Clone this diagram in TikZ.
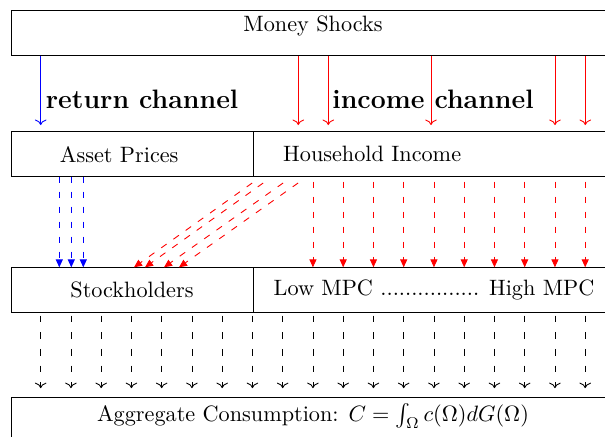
\documentclass[tikz,border=0pt]{standalone}
\usepackage{amsmath,amssymb}
\usetikzlibrary{positioning}
\usetikzlibrary{arrows.meta}

\begin{document}
\begin{tikzpicture}[x=0.45pt, y=-0.45pt,
    box/.style = {draw, outer sep=0pt, minimum height=20.25pt, inner ysep=3pt},
    wide/.style = {box, anchor=north west, minimum width=271.8pt},
    lcell/.style = {box, minimum width=108.9pt},
    rcell/.style = {box, minimum width=162.9pt},
    midblue/.style = {blue, dash pattern=on 3pt off 3.75pt, -{Triangle[length=3.6pt,width=3.2pt]}},
    midred/.style = {red, dash pattern=on 3pt off 3.75pt, -{Triangle[length=3.6pt,width=3.2pt]}},
    down/.style = {dash pattern=on 3pt off 4.5pt, ->, shorten <=1.5pt, shorten >=4.3pt},
    chan/.style = {font=\large\bfseries, inner sep=0pt, anchor=base west}]
  \useasboundingbox (0,0) rectangle (605,436);
  \clip (0,0) rectangle (605,436);
  % rows
  \node[wide, text height=6.45pt, text depth=7.8pt] (shocks) at (11,10.7) {Money Shocks};
  \node[lcell, anchor=north west, text width=64.9pt, align=left, inner xsep=22pt] (assets) at (11,131.7) {Asset Prices};
  \node[rcell, text width=135.7pt, align=left, inner xsep=13.6pt] (income) [right=0pt of assets] {Household Income};
  \node[lcell, anchor=north west] (stock) at (11,267.3) {Stockholders};
  \node[rcell] (mpc) [right=0pt of stock] {Low MPC ................ High MPC};
  \node[wide, text height=7.5pt, text depth=6.75pt] (agg) at (11,397.7) {Aggregate Consumption: $C=\int_\Omega c(\Omega)dG(\Omega)$};
  \node[chan] (ret) at (45.5,108) {return channel};
  \node[chan] (inc) at (332,108) {income channel};
  % channels
  \draw[->, blue, shorten >=3pt] (shocks.south -| 40.7,0) -- (assets.north -| 40.7,0);
  \foreach \x in {298.3,328.3,431,555,585.3}
    \draw[->, red, shorten >=3pt] (shocks.south -| \x,0) -- (assets.north -| \x,0);
  \foreach \x in {59.3,71.3,83.3}
    \draw[midblue] (assets.south -| \x,0) -- (stock.north -| \x,0);
  \foreach \a/\b in {261/134,272/145,292/164,307/179}
    \draw[midred, shorten <=4.9pt] (income.south -| \a,0) -- (stock.north -| \b,0);
  \foreach \k [evaluate=\k as \x using 40.7+30.25*\k] in {9,...,18}
    \draw[midred, shorten <=2.25pt] (income.south -| \x,0) -- (mpc.north -| \x,0);
  \foreach \k [evaluate=\k as \x using 40.7+30.25*\k] in {0,...,18}
    \draw[down] (stock.south -| \x,0) -- (agg.north -| \x,0);
\end{tikzpicture}
\end{document}
